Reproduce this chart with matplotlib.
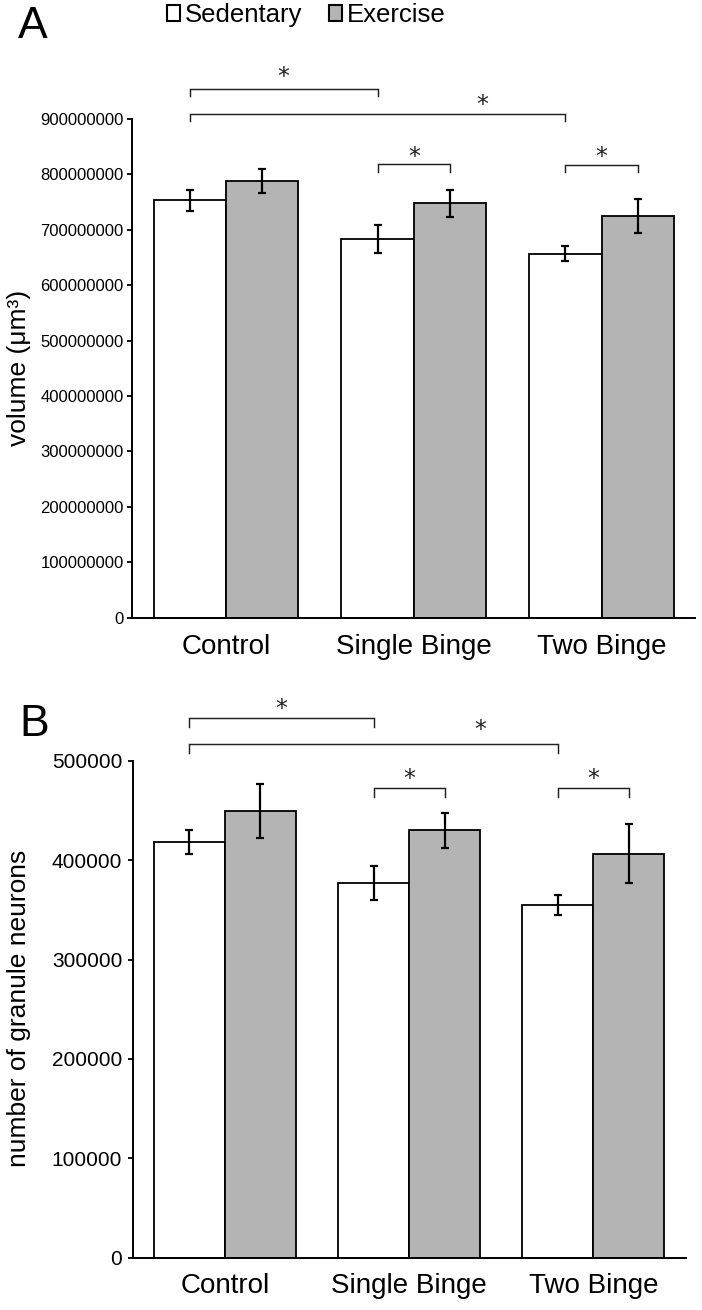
import numpy as np
import matplotlib

matplotlib.use("Agg")
import matplotlib.pyplot as plt
from matplotlib.patches import Patch

plt.rcParams.update({
    "font.family": ["Liberation Sans", "DejaVu Sans"],
    "axes.linewidth": 1.4,
})

W, H = 702, 1310
GRAY = "#b4b4b4"

# ---- data -------------------------------------------------------------------
groups = ["Control", "Single Binge", "Two Binge"]
series = ["Sedentary", "Exercise"]

vol_sed = [753e6, 684e6, 657e6]
vol_sed_err = [19e6, 25e6, 14e6]
vol_exe = [788e6, 748e6, 725e6]
vol_exe_err = [22e6, 24e6, 31e6]

neu_sed = [418000, 377000, 355000]
neu_sed_err = [12000, 17000, 10000]
neu_exe = [449500, 430000, 406500]
neu_exe_err = [27000, 17500, 29500]


def px_box(left, right, top, bottom):
    return [left / W, 1 - bottom / H, (right - left) / W, (bottom - top) / H]


def draw_panel(ax, sed, sed_err, exe, exe_err, width, ymax, step, brackets,
               pad, ticksize, tickpad):
    x = np.arange(len(groups))
    ekw = dict(ecolor="black", elinewidth=1.6, capsize=3.2, capthick=1.6)
    ax.bar(x - width / 2, sed, width, yerr=sed_err, color="white",
           edgecolor="black", linewidth=1.3, error_kw=ekw, zorder=2)
    ax.bar(x + width / 2, exe, width, yerr=exe_err, color=GRAY,
           edgecolor="black", linewidth=1.3, error_kw=ekw, zorder=2)
    ax.set_xlim(-0.5, 2.5)
    ax.set_ylim(0, ymax)
    ticks = np.arange(0, ymax + 1, step)
    ax.set_yticks(ticks)
    ax.set_yticklabels([f"{int(v)}" for v in ticks])
    ax.set_xticks(x)
    ax.set_xticklabels(groups, fontsize=20)
    ax.tick_params(axis="x", length=0, pad=pad)
    ax.tick_params(axis="y", direction="out", length=3.6, width=1.3,
                   labelsize=ticksize, pad=tickpad)
    for side in ("top", "right"):
        ax.spines[side].set_visible(False)

    # significance brackets: (bar a, bar b, line height, drop, star x, star y)
    for a, b, y, drop, sx, sy in brackets:
        xa = a[0] + (-width / 2 if a[1] == 0 else width / 2)
        xb = b[0] + (-width / 2 if b[1] == 0 else width / 2)
        ax.plot([xa, xa, xb, xb], [y - drop, y, y, y - drop], color="#222222",
                lw=1.05, clip_on=False, solid_joinstyle="miter")
        if sx is None:
            sx = (xa + xb) / 2
        ax.text(sx, sy, "*", ha="center", va="center", fontsize=17,
                color="#222222", clip_on=False, family=["DejaVu Sans"])


fig = plt.figure(figsize=(W / 100, H / 100), dpi=100)

# ---- panel A ----------------------------------------------------------------
axA = fig.add_axes(px_box(132, 695.5, 119, 617.7))
draw_panel(axA, vol_sed, vol_sed_err, vol_exe, vol_exe_err, 0.385,
           900e6, 100e6,
           [((0, 0), (1, 0), 955e6, 14e6, None, 976e6),
            ((0, 0), (2, 0), 909e6, 13e6, 1.363, 926e6),
            ((1, 0), (1, 1), 818e6, 13e6, None, 832e6),
            ((2, 0), (2, 1), 817e6, 13e6, None, 832e6)],
           pad=12, ticksize=12, tickpad=2.5)

# ---- panel B ----------------------------------------------------------------
axB = fig.add_axes(px_box(132.7, 685.5, 760.7, 1257.7))
draw_panel(axB, neu_sed, neu_sed_err, neu_exe, neu_exe_err, 0.386,
           500000, 100000,
           [((0, 0), (1, 0), 542.6e3, 9e3, None, 552e3),
            ((0, 0), (2, 0), 516.8e3, 9e3, 1.386, 531e3),
            ((1, 0), (1, 1), 472.2e3, 9e3, None, 482e3),
            ((2, 0), (2, 1), 472.2e3, 9e3, None, 482e3)],
           pad=11, ticksize=15, tickpad=4)

# ---- labels -----------------------------------------------------------------
fig.text(19 / W, 1 - 368 / H, "volume (μm³)", rotation=90, ha="center",
         va="center", fontsize=19)
fig.text(19 / W, 1 - 1008 / H, "number of granule neurons", rotation=90,
         ha="center", va="center", fontsize=19)
fig.text(33 / W, 1 - 27 / H, "A", ha="center", va="center", fontsize=32)
fig.text(34 / W, 1 - 725 / H, "B", ha="center", va="center", fontsize=32)

handles = [Patch(facecolor="white", edgecolor="black", linewidth=1.5),
           Patch(facecolor=GRAY, edgecolor="black", linewidth=1.5)]
fig.legend(handles, series, ncol=2, loc="center left",
           bbox_to_anchor=(167 / W, 1 - 15 / H), frameon=False, fontsize=18.5,
           handlelength=0.5, handleheight=0.55, handletextpad=0.2,
           columnspacing=1.05, borderpad=0, borderaxespad=0)

fig.savefig("out.png", dpi=100)
